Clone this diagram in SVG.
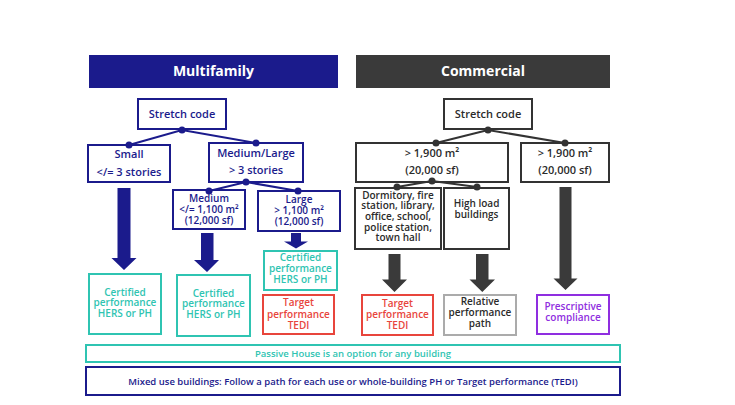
<svg xmlns="http://www.w3.org/2000/svg" width="735" height="405" viewBox="0 0 735 405">
<style>
text{font-family:"Open Sans","Noto Sans","DejaVu Sans",sans-serif;font-weight:600;text-anchor:middle}
.nv{fill:#fff;stroke:#1b1b8c;stroke-width:2}
.dk{fill:#fff;stroke:#333;stroke-width:2}
.tl{fill:#fff;stroke:#2fc4b2;stroke-width:2}
.rd{fill:#fff;stroke:#e8453c;stroke-width:2}
.gy{fill:#fff;stroke:#ababab;stroke-width:2}
.pu{fill:#fff;stroke:#8f2ee0;stroke-width:2}
.tnv{fill:#1b1b8c}.tdk{fill:#2b2b2b}.ttl{fill:#2fc4b2}.trd{fill:#e8453c}.tpu{fill:#8f2ee0}
.l11{font-size:11px}.l10{font-size:10px}.l9{font-size:10px}.lb{font-size:9.5px}
.cn{stroke:#1b1b8c;stroke-width:2;fill:none}
.cd{stroke:#333;stroke-width:2;fill:none}
</style>
<rect width="735" height="405" fill="#fff"/>
<g id="hdr-multifamily"><rect x="89" y="55" width="249" height="33" fill="#1b1b8c"/><text x="213.5" y="76" style="font-size:14px;font-weight:700" fill="#fff">Multifamily</text></g>
<g id="hdr-commercial"><rect x="356" y="55" width="254" height="33" fill="#3a3a3a"/><text x="483" y="76" style="font-size:14px;font-weight:700" fill="#fff">Commercial</text></g>

<g id="mf-stretch"><rect class="nv" x="138" y="99" width="88" height="30"/><text class="tnv l11" x="182" y="117.5">Stretch code</text></g>
<g id="mf-small"><rect class="nv" x="88" y="145" width="82" height="37"/><text class="tnv l11" x="129" y="158">Small</text><text class="tnv l11" x="129" y="175.5">&lt;/= 3 stories</text></g>
<g id="mf-medlarge"><rect class="nv" x="209" y="143" width="94" height="39"/><text class="tnv l11" x="256" y="157">Medium/Large</text><text class="tnv l11" x="256" y="174">&gt; 3 stories</text></g>
<g id="mf-medium"><rect class="nv" x="173" y="190" width="72" height="39"/><text class="tnv l9" x="209" y="201.5">Medium</text><text class="tnv l9" x="209" y="213">&lt;/= 1,100 m²</text><text class="tnv l9" x="209" y="223.5">(12,000 sf)</text></g>
<g id="mf-large"><rect class="nv" x="258" y="191" width="82" height="40"/><text class="tnv l9" x="299" y="202.5">Large</text><text class="tnv l9" x="299" y="214">&gt; 1,100 m²</text><text class="tnv l9" x="299" y="224.5">(12,000 sf)</text></g>
<g id="mf-cert1"><rect class="tl" x="89" y="274" width="72" height="60"/><text class="ttl l9" x="125" y="295.5">Certified</text><text class="ttl l9" x="125" y="306">performance</text><text class="ttl l9" x="125" y="316.5">HERS or PH</text></g>
<g id="mf-cert2"><rect class="tl" x="177" y="275" width="73" height="61"/><text class="ttl l9" x="213.5" y="296.5">Certified</text><text class="ttl l9" x="213.5" y="307">performance</text><text class="ttl l9" x="213.5" y="317.5">HERS or PH</text></g>
<g id="mf-cert3"><rect class="tl" x="264" y="251" width="73" height="39"/><text class="ttl l9" x="300.5" y="260.5">Certified</text><text class="ttl l9" x="300.5" y="272">performance</text><text class="ttl l9" x="300.5" y="283">HERS or PH</text></g>
<g id="mf-tedi"><rect class="rd" x="263" y="295" width="71" height="39"/><text class="trd l9" x="298.5" y="306">Target</text><text class="trd l9" x="298.5" y="317.5">performance</text><text class="trd l9" x="298.5" y="328.5">TEDI</text></g>

<g id="c-stretch"><rect class="dk" x="444" y="99" width="88" height="30"/><text class="tdk l11" x="488" y="117.5">Stretch code</text></g>
<g id="c-big"><rect class="dk" x="356" y="143" width="152" height="39"/><text class="tdk l11" x="432" y="157">&gt; 1,900 m²</text><text class="tdk l11" x="432" y="174">(20,000 sf)</text></g>
<g id="c-right"><rect class="dk" x="521" y="143" width="88" height="39"/><text class="tdk l11" x="565" y="157">&gt; 1,900 m²</text><text class="tdk l11" x="565" y="174">(20,000 sf)</text></g>
<g id="c-dorm"><rect class="dk" x="355" y="188" width="86" height="61"/><text class="tdk l10" x="398" y="198.5">Dormitory, fire</text><text class="tdk l10" x="398" y="209.2">station, library,</text><text class="tdk l10" x="398" y="219.9">office, school,</text><text class="tdk l10" x="398" y="230.6">police station,</text><text class="tdk l10" x="398" y="241.3">town hall</text></g>
<g id="c-highload"><rect class="dk" x="444" y="188" width="65" height="61"/><text class="tdk l10" x="476.5" y="206.5">High load</text><text class="tdk l10" x="476.5" y="217.5">buildings</text></g>
<g id="c-tedi"><rect class="rd" x="362" y="295" width="71" height="40"/><text class="trd l9" x="397.5" y="306.5">Target</text><text class="trd l9" x="397.5" y="317.5">performance</text><text class="trd l9" x="397.5" y="328.5">TEDI</text></g>
<g id="c-relative"><rect class="gy" x="444" y="295" width="72" height="40"/><text class="tdk l9" x="480" y="305">Relative</text><text class="tdk l9" x="480" y="316">performance</text><text class="tdk l9" x="480" y="327">path</text></g>
<g id="c-prescriptive"><rect class="pu" x="537" y="295" width="72" height="39"/><text class="tpu l9" x="573" y="310">Prescriptive</text><text class="tpu l9" x="573" y="321">compliance</text></g>

<g id="passive"><rect class="tl" x="86" y="345" width="534" height="17"/><text class="ttl lb" x="353" y="357">Passive House is an option for any building</text></g>
<g id="mixed"><rect class="nv" x="86" y="367" width="534" height="28"/><text class="tnv lb" x="353" y="384.5">Mixed use buildings: Follow a path for each use or whole-building PH or Target performance (TEDI)</text></g>

<g id="connectors">
<path class="cn" d="M129 145L182 130L256 143M209 191L246 182L298 191"/>
<path class="cd" d="M436 143L488 130L565 143M397 187L432 181L477 187"/>
<g fill="#1b1b8c">
<circle cx="182" cy="130" r="3.5"/><circle cx="129" cy="145" r="3.5"/><circle cx="256" cy="143" r="3.5"/>
<circle cx="246" cy="182" r="3.5"/><circle cx="209" cy="191" r="3.5"/><circle cx="298" cy="191" r="3.5"/>
<polygon points="117.5,188 130.5,188 130.5,258 136.5,258 124,270 111.5,258 117.5,258"/>
<polygon points="201,233 213.5,233 213.5,260 219,260 207,272 194,260 201,260"/>
<polygon points="291,233 301,233 301,241.5 308,241.5 296,248.5 284,241.5 291,241.5"/>
</g>
<g fill="#333">
<circle cx="488" cy="130" r="3.5"/><circle cx="436" cy="143" r="3.5"/><circle cx="565" cy="143" r="3.5"/>
<circle cx="432" cy="181" r="3.5"/><circle cx="397" cy="187" r="3.5"/><circle cx="477" cy="187" r="3.5"/>
<polygon points="388.5,254 400.5,254 400.5,279.5 407,279.5 394.5,292 382,279.5 388.5,279.5" fill="#3a3a3a"/>
<polygon points="476,254 488.5,254 488.5,279.5 495,279.5 482.3,292 469.5,279.5 476,279.5" fill="#3a3a3a"/>
<polygon points="559.5,187 571.5,187 571.5,278.5 577.5,278.5 565.5,290 553.5,278.5 559.5,278.5" fill="#3a3a3a"/>
</g>
</g>
</svg>
